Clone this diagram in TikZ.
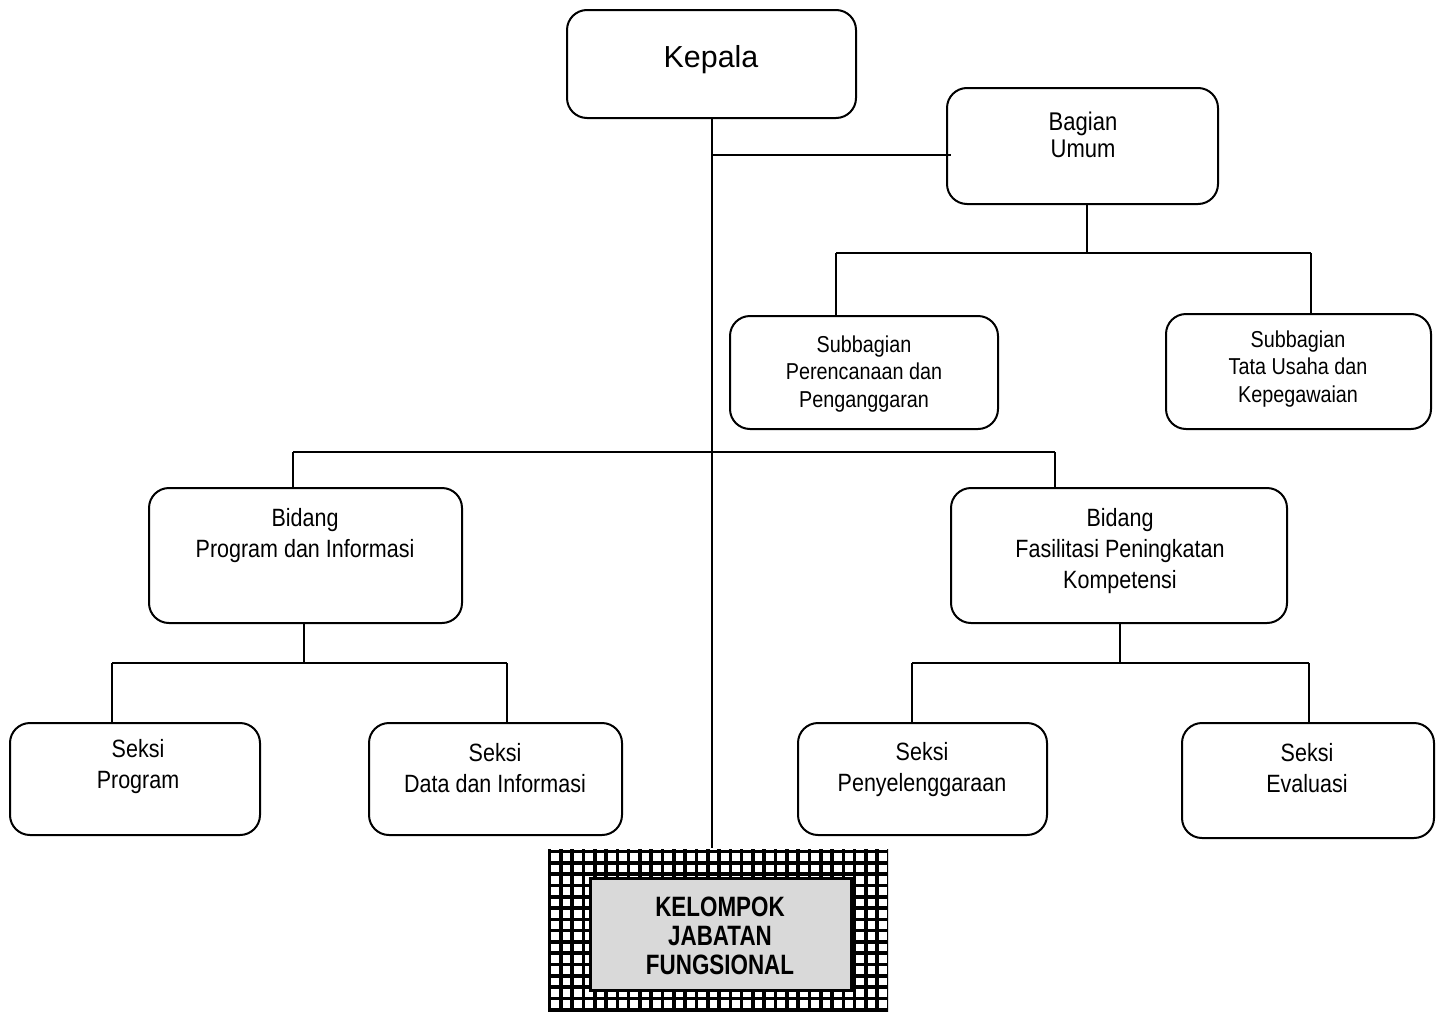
\documentclass[tikz,border=0pt]{standalone}
\usepackage{fontspec}
\setmainfont{Liberation Sans}
\newfontfamily\narrowfont[FakeStretch=0.86]{Liberation Sans}
\newfontfamily\narrowbold[FakeStretch=0.80]{Liberation Sans Bold}
\usetikzlibrary{fit,calc}
\begin{document}
\begin{tikzpicture}[x=0.5pt,y=-0.5pt, line width=1pt,
  box/.style={draw, rounded corners=10pt, inner sep=0pt, line width=1pt},
  txt/.style={align=center, font=\narrowfont\fontsize{12.5}{15.5}\selectfont, inner sep=0pt},
  stxt/.style={align=center, font=\narrowfont\fontsize{11.5}{13.6}\selectfont, inner sep=0pt},
  conn/.style={line width=1pt}]
\useasboundingbox (0,0) rectangle (1444,1012);

% boxes
\node[box, fit={(567,10) (856,118)}] (kep) {};
\node[box, fit={(947,88) (1218,204)}] (bag) {};
\node[box, fit={(730,316) (998,429)}] (sbp) {};
\node[box, fit={(1166,314) (1431,429)}] (sbt) {};
\node[box, fit={(149,488) (462,623)}] (bpi) {};
\node[box, fit={(951,488) (1287,623)}] (bfp) {};
\node[box, fit={(10,723) (260,835)}] (spr) {};
\node[box, fit={(369,723) (622,835)}] (sdi) {};
\node[box, fit={(798,723) (1047,835)}] (spy) {};
\node[box, fit={(1182,723) (1434,838)}] (sev) {};

% texts
\node[font=\fontsize{15.2}{18}\selectfont, inner sep=0pt] (tkep) at (711,60) {Kepala};
\node[stxt, font=\narrowfont\fontsize{12.8}{13.8}\selectfont] (tbag) at (1083,135) {Bagian\\Umum};
\node[stxt] (tsbp) at (864,374) {Subbagian\\Perencanaan dan\\Penganggaran};
\node[stxt] (tsbt) at (1298,369) {Subbagian\\Tata Usaha dan\\Kepegawaian};
\node[txt] (tbpi) at (305,536) {Bidang\\Program dan Informasi};
\node[txt] (tbfp) at (1120,551) {Bidang\\Fasilitasi Peningkatan\\Kompetensi};
\node[txt] (tspr) at (138,767) {Seksi\\Program};
\node[txt] (tsdi) at (495,768) {Seksi\\Data dan Informasi};
\node[txt] (tspy) at (922,770) {Seksi\\Penyelenggaraan};
\node[txt] (tsev) at (1307,768) {Seksi\\Evaluasi};

% grid (kelompok jabatan fungsional)
\coordinate (g1) at (548,849);
\coordinate (g2) at (888,1012);
\node[fit={(g1) (g2)}, inner sep=0pt] (kjf) {};
\begin{scope}
  \clip (g1) rectangle (g2);
  \foreach \k in {0,...,30} {
    \draw[line width=1.8pt] (549.5+\k*11.3,849) -- (549.5+\k*11.3,1012);
  }
  \foreach \k in {0,...,14} {
    \draw[line width=1.8pt] (548,851.5+\k*11.3) -- (888,851.5+\k*11.3);
  }
\end{scope}
\node[fit={(590,878) (851,990)}, inner sep=0pt, draw, line width=1.5pt, fill=black!15] (kjb) {};
\node[align=center, font=\narrowbold\fontsize{14}{14.6}\selectfont, inner sep=0pt] (tkjf) at (720,936) {KELOMPOK\\JABATAN\\FUNGSIONAL};

% connectors
\draw[conn] (kep.south) -- (kep.south |- kjf.north);
\draw[conn] ($(kep.south)+(0,36)$) coordinate (k1) -- (k1 -| 951,0);
% Bagian Umum to subbagian
\coordinate (b1) at ($(bag.south)+(4,0)$);
\draw[conn] (b1) -- ++(0,48) coordinate (b2);
\coordinate (b3) at (b2 -| 836,0);
\coordinate (b4) at (b2 -| 1311,0);
\draw[conn] (b3) -- (b4);
\draw[conn] (b3) -- (b3 |- sbp.north);
\draw[conn] (b4) -- (b4 |- sbt.north);
% bidang bus
\coordinate (m1) at (293,452);
\coordinate (m2) at (1055,452);
\draw[conn] (m1) -- (m2);
\draw[conn] (m1) -- (m1 |- bpi.north);
\draw[conn] (m2) -- (m2 |- bfp.north);
% Bidang Program to seksi
\coordinate (p0) at (304,663);
\coordinate (p1) at (112,663);
\coordinate (p2) at (507,663);
\draw[conn] (p0 |- bpi.south) -- (p0);
\draw[conn] (p1) -- (p2);
\draw[conn] (p1) -- (p1 |- spr.north);
\draw[conn] (p2) -- (p2 |- sdi.north);
% Bidang Fasilitasi to seksi
\coordinate (f0) at (1120,663);
\coordinate (f1) at (912,663);
\coordinate (f2) at (1309,663);
\draw[conn] (f0 |- bfp.south) -- (f0);
\draw[conn] (f1) -- (f2);
\draw[conn] (f1) -- (f1 |- spy.north);
\draw[conn] (f2) -- (f2 |- sev.north);
\end{tikzpicture}
\end{document}
